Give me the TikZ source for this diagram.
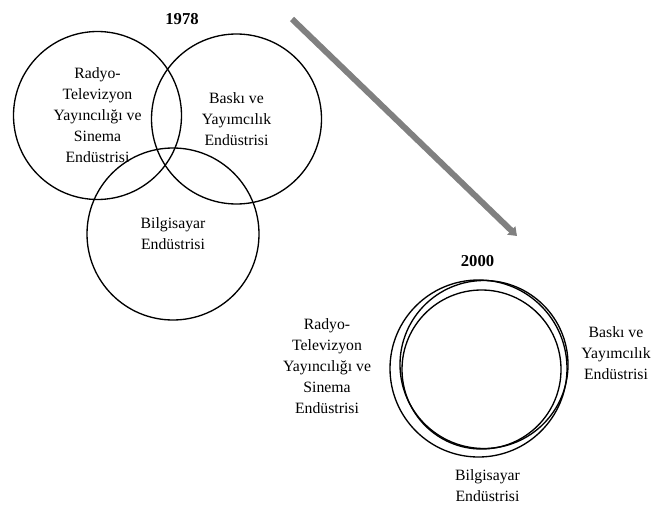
\documentclass[tikz,border=0pt]{standalone}
\usepackage{fontspec}
\setmainfont{Liberation Serif}
\usetikzlibrary{arrows.meta}
\tikzset{
  ring/.style={circle, draw, line width=1pt, inner sep=0pt, minimum size=#1,
    align=center, font=\fontsize{11.8}{15.75}\selectfont},
  sector/.style={align=center, font=\fontsize{11.8}{15.75}\selectfont},
  year/.style={font=\fontsize{12.5}{15}\selectfont\bfseries}
}
\begin{document}
\begin{tikzpicture}[x=0.75pt, y=-0.75pt]
      \useasboundingbox (0,0) rectangle (652,506);
      \draw
        (182,19.5) node[year] (y1978){1978}
        (97.5,115.5) node[ring=126pt] (radyo){Radyo-\\Televizyon\\Yayıncılığı ve\\Sinema\\Endüstrisi}
        (236.5,119) node[ring=127.5pt] (baski){Baskı ve\\Yayımcılık\\Endüstrisi}
        (173,234) node[ring=129pt] (bilgi){Bilgisayar\\Endüstrisi};
      \draw
        (477.5,261.5) node[year] (y2000){2000}
        (478.5,368.5) node[ring=132.75pt] (radyoR){}
        (484,364.5) node[ring=126pt] (baskiR){}
        (481.5,369.5) node[ring=119.25pt] (bilgiR){}
        (327,366) node[sector] (radyoL){Radyo-\\Televizyon\\Yayıncılığı ve\\Sinema\\Endüstrisi}
        (616,353) node[sector] (baskiL){Baskı ve\\Yayımcılık\\Endüstrisi}
        (487.5,485.5) node[sector] (bilgiL){Bilgisayar\\Endüstrisi};
      \coordinate (from) at (292,19);
      \coordinate (to) at (517,236);
      \begin{scope}[-{Triangle[width=8.5pt,length=6pt]}, line width=4.5pt, draw=black!50]
        \draw (from) to (to);
      \end{scope}
    \end{tikzpicture}
\end{document}
